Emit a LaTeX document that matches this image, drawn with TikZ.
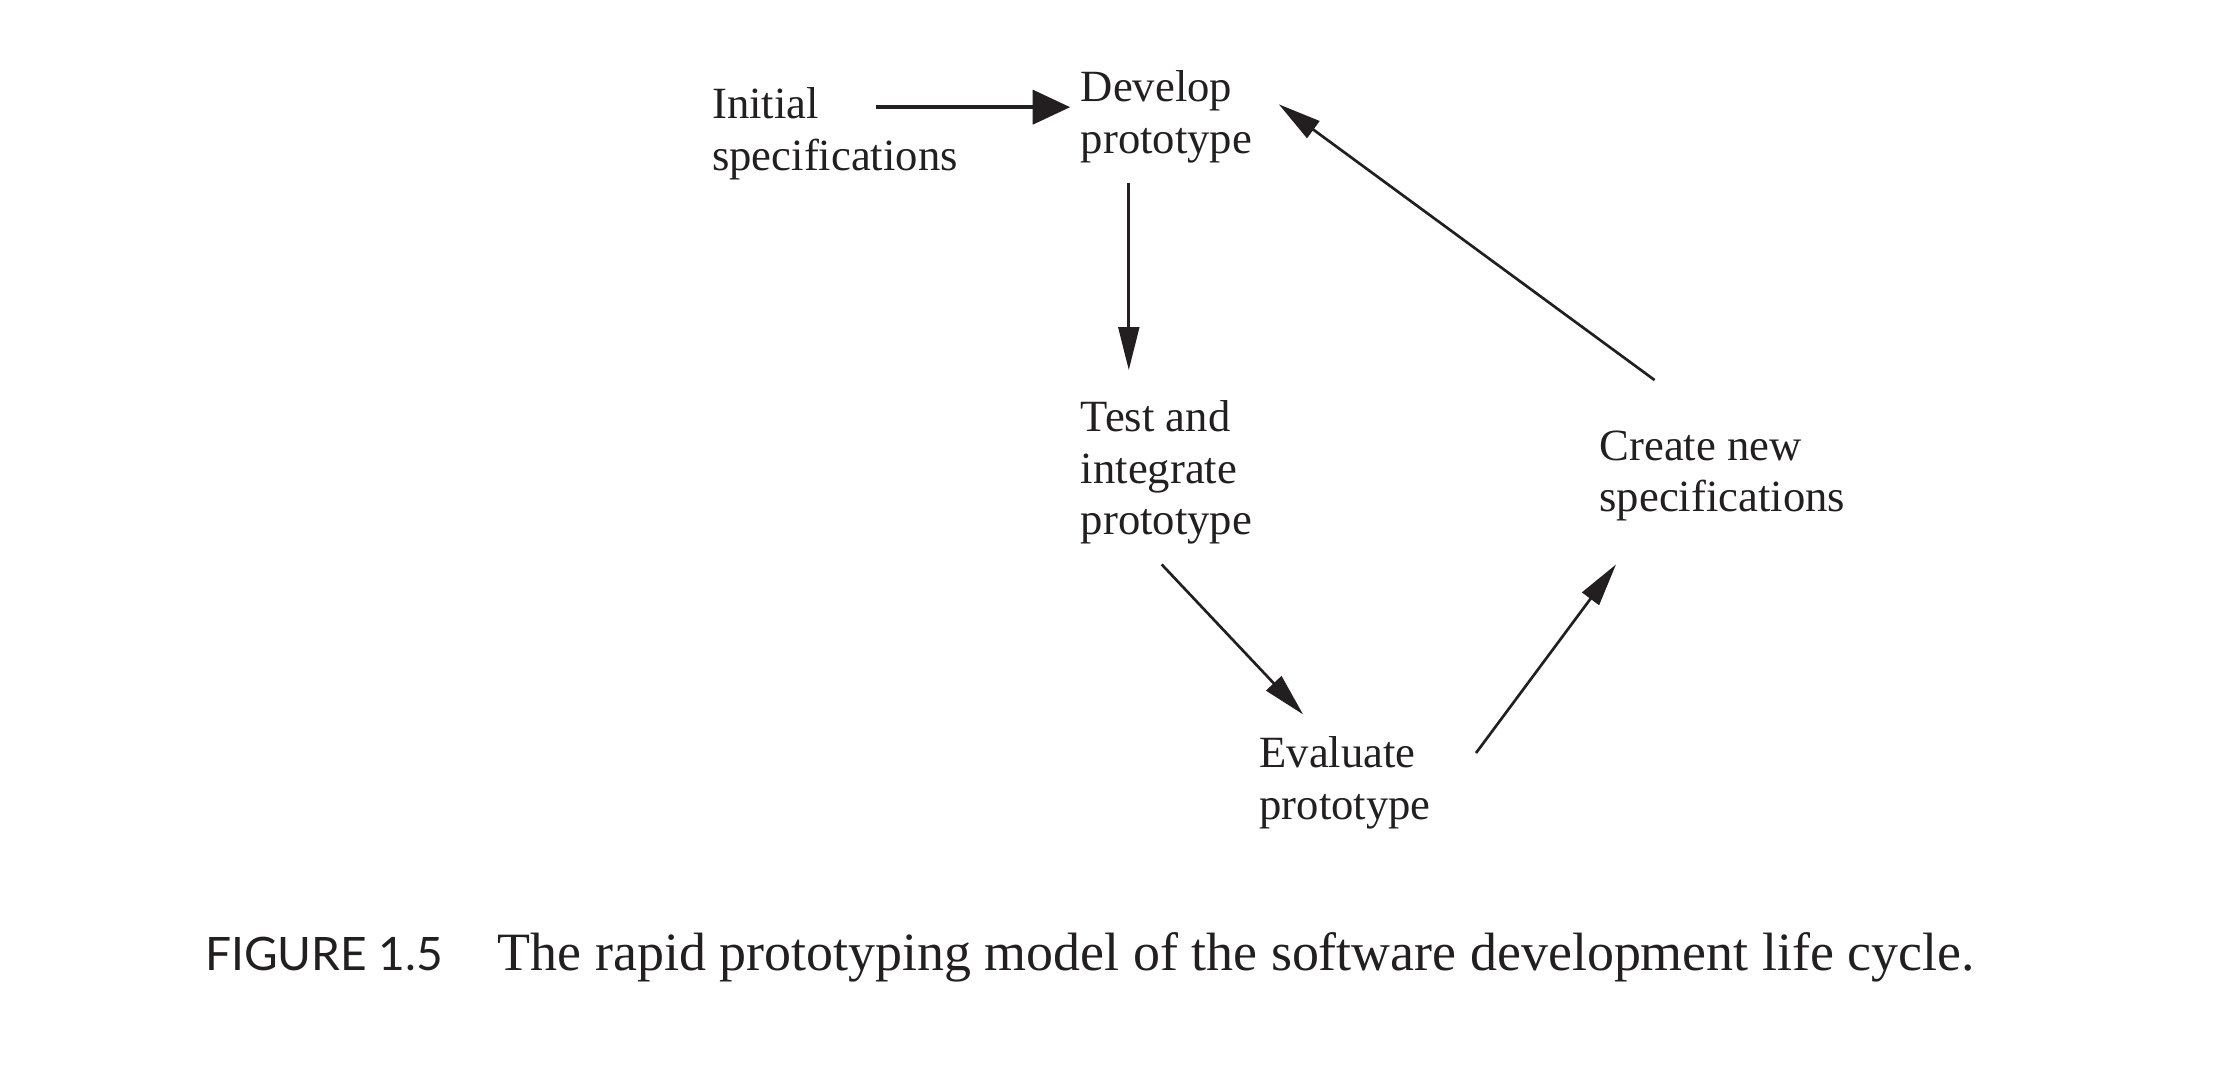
\documentclass[tikz,border=0pt]{standalone}
\usepackage{fontspec}
\setmainfont{Liberation Serif}
\newfontfamily\capfont{Lato}
\usetikzlibrary{arrows.meta}
\definecolor{ink}{HTML}{231F20}

\begin{document}
\begin{tikzpicture}[x=0.4pt,y=-0.4pt,
    stage/.style={anchor=north west,inner sep=0pt,align=left,text=ink,
      font=\fontsize{12.5}{14.4}\selectfont},
    flow/.style={draw=ink,line width=0.75pt,-{Triangle[length=12pt,width=5.8pt]}},
    mainflow/.style={draw=ink,line width=1.2pt,-{Triangle[length=10.5pt,width=9.5pt]}}]
  \useasboundingbox (0,0) rectangle (1560,754);
  %% Stages of the cycle
  \node[stage] (Init) at (498,61) {Initial\\specifications};
  \node[stage] (Develop) at (756,49) {Develop\\prototype};
  \node[stage] (Test) at (756,280) {Test and\\integrate\\prototype};
  \node[stage] (Evaluate) at (881,515) {Evaluate\\prototype};
  \node[stage] (Create) at (1119,301) {Create new\\specifications};
  %% Arrows between the stages
  \draw[mainflow] ([shift={(115,14)}]Init.north west) -- ([shift={(-7,26)}]Develop.north west);
  \draw[flow] ([shift={(34,79)}]Develop.north west) -- ([shift={(34,-21)}]Test.north west);
  \draw[flow] ([shift={(57,115)}]Test.north west) -- ([shift={(31,-15)}]Evaluate.north west);
  \draw[flow] ([shift={(152,12)}]Evaluate.north west) -- ([shift={(12,94)}]Create.north west);
  \draw[flow] ([shift={(39,-35)}]Create.north west) -- ([shift={(139,24)}]Develop.north west);
  %\draw[flow] (Create.north) -- (Develop.east);
  %% Caption
  \node[anchor=base west,inner sep=0pt,text=ink,font=\capfont\fontsize{12.9}{16}\selectfont]
    (FigNum) at (143,679) {FIGURE 1.5};
  \node[anchor=base west,inner sep=0pt,text=ink,font=\fontsize{15.1}{18}\selectfont]
    (FigText) at (348,679) {The rapid prototyping model of the software development life cycle.};
\end{tikzpicture}
\end{document}
